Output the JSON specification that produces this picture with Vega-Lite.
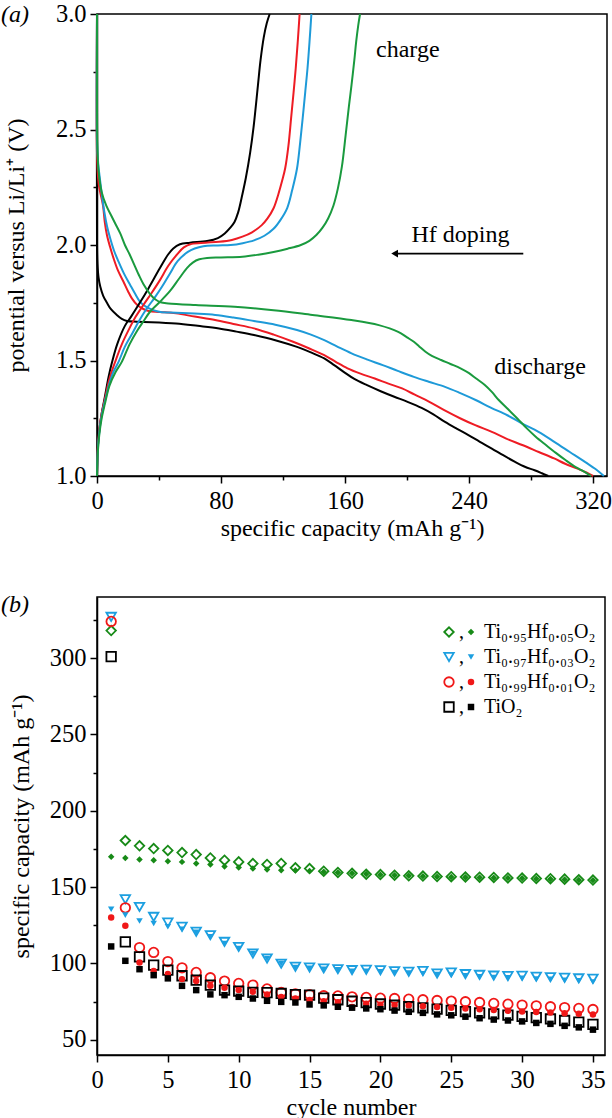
{
  "$schema": "https://vega.github.io/schema/vega-lite/v6.json",
  "padding": {"left": 0, "top": 0, "right": 0, "bottom": 0},
  "spacing": 50,
  "config": {
    "font": "Liberation Serif",
    "view": {"stroke": "black", "strokeWidth": 1.5},
    "axis": {"grid": false, "domainColor": "black", "domainWidth": 1.5, "tickColor": "black", "tickWidth": 1.5, "labelFont": "Liberation Serif", "labelFontSize": 24.5, "labelColor": "black", "titleFont": "Liberation Serif", "titleFontSize": 24, "titleFontWeight": "normal", "titleColor": "black", "labelOverlap": false, "labelFlush": false}
  },
  "datasets": {
    "curves": [
      {"s":"k","t":"d","x":0,"y":3.0},{"s":"k","t":"d","x":0,"y":2.0},{"s":"k","t":"d","x":0.3,"y":1.92},{"s":"k","t":"d","x":1,"y":1.86},{"s":"k","t":"d","x":2.1,"y":1.82},{"s":"k","t":"d","x":4,"y":1.78},{"s":"k","t":"d","x":6.4,"y":1.75},{"s":"k","t":"d","x":9,"y":1.722},{"s":"k","t":"d","x":12.8,"y":1.697},{"s":"k","t":"d","x":16,"y":1.68},{"s":"k","t":"d","x":19.3,"y":1.671},{"s":"k","t":"d","x":25.7,"y":1.668},{"s":"k","t":"d","x":35,"y":1.666},{"s":"k","t":"d","x":51,"y":1.66},{"s":"k","t":"d","x":65,"y":1.65},{"s":"k","t":"d","x":78.7,"y":1.639},{"s":"k","t":"d","x":90,"y":1.625},{"s":"k","t":"d","x":101.3,"y":1.61},{"s":"k","t":"d","x":115,"y":1.588},{"s":"k","t":"d","x":129,"y":1.559},{"s":"k","t":"d","x":138,"y":1.535},{"s":"k","t":"d","x":146.6,"y":1.509},{"s":"k","t":"d","x":153,"y":1.48},{"s":"k","t":"d","x":159.1,"y":1.451},{"s":"k","t":"d","x":166,"y":1.42},{"s":"k","t":"d","x":174.2,"y":1.393},{"s":"k","t":"d","x":183,"y":1.367},{"s":"k","t":"d","x":191.8,"y":1.343},{"s":"k","t":"d","x":200,"y":1.322},{"s":"k","t":"d","x":209.4,"y":1.295},{"s":"k","t":"d","x":217,"y":1.267},{"s":"k","t":"d","x":224.5,"y":1.234},{"s":"k","t":"d","x":232,"y":1.205},{"s":"k","t":"d","x":239.6,"y":1.177},{"s":"k","t":"d","x":247,"y":1.148},{"s":"k","t":"d","x":254.7,"y":1.119},{"s":"k","t":"d","x":262,"y":1.09},{"s":"k","t":"d","x":269.7,"y":1.061},{"s":"k","t":"d","x":276,"y":1.04},{"s":"k","t":"d","x":282.3,"y":1.025},{"s":"k","t":"d","x":287,"y":1.012},{"s":"k","t":"d","x":291.1,"y":1.0},
      {"s":"r","t":"d","x":0,"y":3.0},{"s":"r","t":"d","x":0,"y":2.4},{"s":"r","t":"d","x":1,"y":2.27},{"s":"r","t":"d","x":2,"y":2.23},{"s":"r","t":"d","x":3.9,"y":2.17},{"s":"r","t":"d","x":5,"y":2.1},{"s":"r","t":"d","x":6.4,"y":2.043},{"s":"r","t":"d","x":8.5,"y":1.99},{"s":"r","t":"d","x":10.7,"y":1.942},{"s":"r","t":"d","x":13.5,"y":1.89},{"s":"r","t":"d","x":17.1,"y":1.841},{"s":"r","t":"d","x":20,"y":1.8},{"s":"r","t":"d","x":22.5,"y":1.769},{"s":"r","t":"d","x":26,"y":1.74},{"s":"r","t":"d","x":29.9,"y":1.723},{"s":"r","t":"d","x":33.4,"y":1.714},{"s":"r","t":"d","x":40.6,"y":1.71},{"s":"r","t":"d","x":51,"y":1.704},{"s":"r","t":"d","x":63,"y":1.69},{"s":"r","t":"d","x":76.2,"y":1.675},{"s":"r","t":"d","x":88,"y":1.658},{"s":"r","t":"d","x":101.3,"y":1.639},{"s":"r","t":"d","x":114,"y":1.612},{"s":"r","t":"d","x":126.5,"y":1.581},{"s":"r","t":"d","x":137,"y":1.552},{"s":"r","t":"d","x":146.6,"y":1.523},{"s":"r","t":"d","x":154,"y":1.494},{"s":"r","t":"d","x":161.6,"y":1.466},{"s":"r","t":"d","x":170,"y":1.443},{"s":"r","t":"d","x":179.2,"y":1.422},{"s":"r","t":"d","x":188,"y":1.4},{"s":"r","t":"d","x":196.8,"y":1.379},{"s":"r","t":"d","x":205,"y":1.352},{"s":"r","t":"d","x":214.4,"y":1.321},{"s":"r","t":"d","x":224,"y":1.285},{"s":"r","t":"d","x":234.5,"y":1.249},{"s":"r","t":"d","x":244,"y":1.22},{"s":"r","t":"d","x":254.7,"y":1.191},{"s":"r","t":"d","x":264,"y":1.162},{"s":"r","t":"d","x":274.8,"y":1.133},{"s":"r","t":"d","x":285,"y":1.104},{"s":"r","t":"d","x":294.9,"y":1.076},{"s":"r","t":"d","x":302,"y":1.053},{"s":"r","t":"d","x":310,"y":1.032},{"s":"r","t":"d","x":316,"y":1.014},{"s":"r","t":"d","x":320,"y":1.0},
      {"s":"b","t":"d","x":0,"y":3.0},{"s":"b","t":"d","x":0,"y":2.45},{"s":"b","t":"d","x":0.8,"y":2.35},{"s":"b","t":"d","x":2,"y":2.28},{"s":"b","t":"d","x":3.5,"y":2.2},{"s":"b","t":"d","x":4.7,"y":2.144},{"s":"b","t":"d","x":6.5,"y":2.08},{"s":"b","t":"d","x":8.5,"y":2.029},{"s":"b","t":"d","x":11,"y":1.975},{"s":"b","t":"d","x":13.9,"y":1.928},{"s":"b","t":"d","x":17.5,"y":1.875},{"s":"b","t":"d","x":21.4,"y":1.827},{"s":"b","t":"d","x":24.5,"y":1.79},{"s":"b","t":"d","x":27.8,"y":1.754},{"s":"b","t":"d","x":31.5,"y":1.733},{"s":"b","t":"d","x":36.3,"y":1.718},{"s":"b","t":"d","x":41,"y":1.71},{"s":"b","t":"d","x":51,"y":1.707},{"s":"b","t":"d","x":63,"y":1.703},{"s":"b","t":"d","x":76.2,"y":1.697},{"s":"b","t":"d","x":88,"y":1.686},{"s":"b","t":"d","x":101.3,"y":1.671},{"s":"b","t":"d","x":115,"y":1.655},{"s":"b","t":"d","x":129,"y":1.632},{"s":"b","t":"d","x":138,"y":1.612},{"s":"b","t":"d","x":146.6,"y":1.588},{"s":"b","t":"d","x":155,"y":1.56},{"s":"b","t":"d","x":164.2,"y":1.531},{"s":"b","t":"d","x":174,"y":1.505},{"s":"b","t":"d","x":184.3,"y":1.48},{"s":"b","t":"d","x":194,"y":1.455},{"s":"b","t":"d","x":204.4,"y":1.429},{"s":"b","t":"d","x":214,"y":1.408},{"s":"b","t":"d","x":224.5,"y":1.386},{"s":"b","t":"d","x":234,"y":1.36},{"s":"b","t":"d","x":244.6,"y":1.328},{"s":"b","t":"d","x":254,"y":1.296},{"s":"b","t":"d","x":264.7,"y":1.263},{"s":"b","t":"d","x":274,"y":1.228},{"s":"b","t":"d","x":284.8,"y":1.191},{"s":"b","t":"d","x":295,"y":1.148},{"s":"b","t":"d","x":305,"y":1.104},{"s":"b","t":"d","x":315,"y":1.06},{"s":"b","t":"d","x":322,"y":1.028},{"s":"b","t":"d","x":327,"y":1.0},
      {"s":"k","t":"c","x":0,"y":1.0},{"s":"k","t":"c","x":0.5,"y":1.12},{"s":"k","t":"c","x":1.5,"y":1.2},{"s":"k","t":"c","x":3,"y":1.27},{"s":"k","t":"c","x":5,"y":1.34},{"s":"k","t":"c","x":7.5,"y":1.43},{"s":"k","t":"c","x":9.6,"y":1.49},{"s":"k","t":"c","x":13,"y":1.57},{"s":"k","t":"c","x":18,"y":1.65},{"s":"k","t":"c","x":22,"y":1.69},{"s":"k","t":"c","x":26.7,"y":1.74},{"s":"k","t":"c","x":33,"y":1.81},{"s":"k","t":"c","x":40.6,"y":1.9},{"s":"k","t":"c","x":46,"y":1.96},{"s":"k","t":"c","x":49.2,"y":1.985},{"s":"k","t":"c","x":53.5,"y":2.003},{"s":"k","t":"c","x":60,"y":2.01},{"s":"k","t":"c","x":71,"y":2.017},{"s":"k","t":"c","x":78,"y":2.03},{"s":"k","t":"c","x":82.4,"y":2.05},{"s":"k","t":"c","x":86,"y":2.075},{"s":"k","t":"c","x":88.7,"y":2.1},{"s":"k","t":"c","x":91,"y":2.14},{"s":"k","t":"c","x":93.8,"y":2.22},{"s":"k","t":"c","x":96,"y":2.29},{"s":"k","t":"c","x":98.8,"y":2.4},{"s":"k","t":"c","x":101,"y":2.51},{"s":"k","t":"c","x":103.8,"y":2.69},{"s":"k","t":"c","x":105.5,"y":2.8},{"s":"k","t":"c","x":107.6,"y":2.9},{"s":"k","t":"c","x":109.5,"y":2.96},{"s":"k","t":"c","x":111.4,"y":3.0},
      {"s":"r","t":"c","x":0,"y":1.0},{"s":"r","t":"c","x":0.5,"y":1.12},{"s":"r","t":"c","x":1.5,"y":1.2},{"s":"r","t":"c","x":3,"y":1.27},{"s":"r","t":"c","x":5,"y":1.33},{"s":"r","t":"c","x":8,"y":1.42},{"s":"r","t":"c","x":11.7,"y":1.494},{"s":"r","t":"c","x":16,"y":1.57},{"s":"r","t":"c","x":21,"y":1.64},{"s":"r","t":"c","x":25,"y":1.69},{"s":"r","t":"c","x":29.9,"y":1.74},{"s":"r","t":"c","x":35,"y":1.79},{"s":"r","t":"c","x":40.6,"y":1.848},{"s":"r","t":"c","x":46,"y":1.91},{"s":"r","t":"c","x":51.4,"y":1.957},{"s":"r","t":"c","x":56,"y":1.99},{"s":"r","t":"c","x":61.1,"y":2.005},{"s":"r","t":"c","x":70,"y":2.01},{"s":"r","t":"c","x":78.7,"y":2.014},{"s":"r","t":"c","x":87,"y":2.022},{"s":"r","t":"c","x":93.8,"y":2.036},{"s":"r","t":"c","x":100,"y":2.055},{"s":"r","t":"c","x":106.3,"y":2.086},{"s":"r","t":"c","x":110,"y":2.115},{"s":"r","t":"c","x":113.9,"y":2.159},{"s":"r","t":"c","x":117,"y":2.22},{"s":"r","t":"c","x":119.5,"y":2.28},{"s":"r","t":"c","x":121.4,"y":2.332},{"s":"r","t":"c","x":123.5,"y":2.43},{"s":"r","t":"c","x":125.2,"y":2.548},{"s":"r","t":"c","x":126.8,"y":2.66},{"s":"r","t":"c","x":128.2,"y":2.765},{"s":"r","t":"c","x":129.5,"y":2.88},{"s":"r","t":"c","x":130.7,"y":3.0},
      {"s":"b","t":"c","x":0,"y":1.0},{"s":"b","t":"c","x":0.5,"y":1.11},{"s":"b","t":"c","x":1.5,"y":1.19},{"s":"b","t":"c","x":3,"y":1.26},{"s":"b","t":"c","x":5,"y":1.32},{"s":"b","t":"c","x":8,"y":1.4},{"s":"b","t":"c","x":10.5,"y":1.45},{"s":"b","t":"c","x":13.9,"y":1.494},{"s":"b","t":"c","x":18,"y":1.56},{"s":"b","t":"c","x":23,"y":1.62},{"s":"b","t":"c","x":27,"y":1.67},{"s":"b","t":"c","x":32.1,"y":1.725},{"s":"b","t":"c","x":37,"y":1.77},{"s":"b","t":"c","x":42,"y":1.82},{"s":"b","t":"c","x":47.1,"y":1.877},{"s":"b","t":"c","x":52,"y":1.93},{"s":"b","t":"c","x":58.6,"y":1.97},{"s":"b","t":"c","x":63,"y":1.985},{"s":"b","t":"c","x":68.6,"y":1.995},{"s":"b","t":"c","x":78,"y":1.998},{"s":"b","t":"c","x":86.2,"y":2.0},{"s":"b","t":"c","x":94,"y":2.008},{"s":"b","t":"c","x":101.3,"y":2.02},{"s":"b","t":"c","x":108,"y":2.04},{"s":"b","t":"c","x":113.9,"y":2.07},{"s":"b","t":"c","x":118.5,"y":2.11},{"s":"b","t":"c","x":122.7,"y":2.16},{"s":"b","t":"c","x":126,"y":2.24},{"s":"b","t":"c","x":129,"y":2.33},{"s":"b","t":"c","x":131,"y":2.44},{"s":"b","t":"c","x":132.7,"y":2.55},{"s":"b","t":"c","x":134.3,"y":2.66},{"s":"b","t":"c","x":135.8,"y":2.765},{"s":"b","t":"c","x":137.2,"y":2.89},{"s":"b","t":"c","x":138.3,"y":3.0},
      {"s":"g","t":"c","x":0,"y":1.0},{"s":"g","t":"c","x":0.5,"y":1.1},{"s":"g","t":"c","x":1.5,"y":1.18},{"s":"g","t":"c","x":3,"y":1.25},{"s":"g","t":"c","x":5,"y":1.31},{"s":"g","t":"c","x":8,"y":1.39},{"s":"g","t":"c","x":12,"y":1.45},{"s":"g","t":"c","x":16,"y":1.494},{"s":"g","t":"c","x":21,"y":1.57},{"s":"g","t":"c","x":26,"y":1.63},{"s":"g","t":"c","x":30,"y":1.67},{"s":"g","t":"c","x":34.2,"y":1.711},{"s":"g","t":"c","x":40,"y":1.75},{"s":"g","t":"c","x":47,"y":1.8},{"s":"g","t":"c","x":53,"y":1.855},{"s":"g","t":"c","x":58,"y":1.9},{"s":"g","t":"c","x":62,"y":1.925},{"s":"g","t":"c","x":66,"y":1.938},{"s":"g","t":"c","x":71,"y":1.944},{"s":"g","t":"c","x":80,"y":1.946},{"s":"g","t":"c","x":93.8,"y":1.949},{"s":"g","t":"c","x":104,"y":1.958},{"s":"g","t":"c","x":113.9,"y":1.97},{"s":"g","t":"c","x":123,"y":1.984},{"s":"g","t":"c","x":131.5,"y":2.0},{"s":"g","t":"c","x":137,"y":2.018},{"s":"g","t":"c","x":141.5,"y":2.043},{"s":"g","t":"c","x":145.5,"y":2.075},{"s":"g","t":"c","x":149.1,"y":2.115},{"s":"g","t":"c","x":152.5,"y":2.17},{"s":"g","t":"c","x":155.4,"y":2.245},{"s":"g","t":"c","x":158,"y":2.34},{"s":"g","t":"c","x":160.4,"y":2.476},{"s":"g","t":"c","x":162.5,"y":2.6},{"s":"g","t":"c","x":164.2,"y":2.693},{"s":"g","t":"c","x":166,"y":2.8},{"s":"g","t":"c","x":167.2,"y":2.88},{"s":"g","t":"c","x":168.5,"y":2.95},{"s":"g","t":"c","x":169.7,"y":3.0},
      {"s":"g","t":"d","x":0,"y":3.0},{"s":"g","t":"d","x":0,"y":2.6},{"s":"g","t":"d","x":0.3,"y":2.42},{"s":"g","t":"d","x":1,"y":2.32},{"s":"g","t":"d","x":3,"y":2.23},{"s":"g","t":"d","x":6,"y":2.17},{"s":"g","t":"d","x":9,"y":2.13},{"s":"g","t":"d","x":12,"y":2.09},{"s":"g","t":"d","x":15,"y":2.05},{"s":"g","t":"d","x":18,"y":2.0},{"s":"g","t":"d","x":21,"y":1.96},{"s":"g","t":"d","x":24,"y":1.915},{"s":"g","t":"d","x":27,"y":1.87},{"s":"g","t":"d","x":30,"y":1.83},{"s":"g","t":"d","x":34,"y":1.79},{"s":"g","t":"d","x":37.5,"y":1.765},{"s":"g","t":"d","x":41,"y":1.752},{"s":"g","t":"d","x":46,"y":1.747},{"s":"g","t":"d","x":63.6,"y":1.74},{"s":"g","t":"d","x":88.7,"y":1.733},{"s":"g","t":"d","x":113.9,"y":1.718},{"s":"g","t":"d","x":139,"y":1.697},{"s":"g","t":"d","x":164.2,"y":1.675},{"s":"g","t":"d","x":181.8,"y":1.653},{"s":"g","t":"d","x":194.3,"y":1.624},{"s":"g","t":"d","x":200,"y":1.6},{"s":"g","t":"d","x":204.4,"y":1.581},{"s":"g","t":"d","x":208,"y":1.56},{"s":"g","t":"d","x":211.9,"y":1.538},{"s":"g","t":"d","x":216,"y":1.52},{"s":"g","t":"d","x":222,"y":1.502},{"s":"g","t":"d","x":228,"y":1.485},{"s":"g","t":"d","x":234.5,"y":1.466},{"s":"g","t":"d","x":240,"y":1.445},{"s":"g","t":"d","x":244.6,"y":1.422},{"s":"g","t":"d","x":250,"y":1.395},{"s":"g","t":"d","x":254.7,"y":1.364},{"s":"g","t":"d","x":259,"y":1.33},{"s":"g","t":"d","x":264.7,"y":1.292},{"s":"g","t":"d","x":271,"y":1.25},{"s":"g","t":"d","x":277.3,"y":1.206},{"s":"g","t":"d","x":283,"y":1.17},{"s":"g","t":"d","x":289.8,"y":1.133},{"s":"g","t":"d","x":296,"y":1.1},{"s":"g","t":"d","x":302.4,"y":1.068},{"s":"g","t":"d","x":308,"y":1.042},{"s":"g","t":"d","x":312.5,"y":1.025},{"s":"g","t":"d","x":318.8,"y":1.0}
    ],
    "cyc": [
      {"n":1,"s":"g","k":"o","v":318},{"n":2,"s":"g","k":"o","v":180.5},{"n":3,"s":"g","k":"o","v":177},{"n":4,"s":"g","k":"o","v":175.2},{"n":5,"s":"g","k":"o","v":174},{"n":6,"s":"g","k":"o","v":172.6},{"n":7,"s":"g","k":"o","v":171.3},{"n":8,"s":"g","k":"o","v":169.1},{"n":9,"s":"g","k":"o","v":167.6},{"n":10,"s":"g","k":"o","v":166.5},{"n":11,"s":"g","k":"o","v":165.4},{"n":12,"s":"g","k":"o","v":164.8},{"n":13,"s":"g","k":"o","v":165.5},{"n":14,"s":"g","k":"o","v":162.6},{"n":15,"s":"g","k":"o","v":162.1},{"n":16,"s":"g","k":"o","v":160.4},{"n":17,"s":"g","k":"o","v":159.6},{"n":18,"s":"g","k":"o","v":159},{"n":19,"s":"g","k":"o","v":158.4},{"n":20,"s":"g","k":"o","v":158.2},{"n":21,"s":"g","k":"o","v":157.8},{"n":22,"s":"g","k":"o","v":157.4},{"n":23,"s":"g","k":"o","v":157.2},{"n":24,"s":"g","k":"o","v":156.9},{"n":25,"s":"g","k":"o","v":156.8},{"n":26,"s":"g","k":"o","v":156.6},{"n":27,"s":"g","k":"o","v":156.5},{"n":28,"s":"g","k":"o","v":156.3},{"n":29,"s":"g","k":"o","v":156},{"n":30,"s":"g","k":"o","v":155.9},{"n":31,"s":"g","k":"o","v":155.6},{"n":32,"s":"g","k":"o","v":155.5},{"n":33,"s":"g","k":"o","v":155.2},{"n":34,"s":"g","k":"o","v":154.8},{"n":35,"s":"g","k":"o","v":154.6},
      {"n":1,"s":"b","k":"o","v":327},{"n":2,"s":"b","k":"o","v":142},{"n":3,"s":"b","k":"o","v":137},{"n":4,"s":"b","k":"o","v":130.5},{"n":5,"s":"b","k":"o","v":126.8},{"n":6,"s":"b","k":"o","v":124},{"n":7,"s":"b","k":"o","v":120.7},{"n":8,"s":"b","k":"o","v":118.5},{"n":9,"s":"b","k":"o","v":114.1},{"n":10,"s":"b","k":"o","v":110.8},{"n":11,"s":"b","k":"o","v":106.5},{"n":12,"s":"b","k":"o","v":103.2},{"n":13,"s":"b","k":"o","v":99.8},{"n":14,"s":"b","k":"o","v":97.8},{"n":15,"s":"b","k":"o","v":97.3},{"n":16,"s":"b","k":"o","v":96.7},{"n":17,"s":"b","k":"o","v":96.2},{"n":18,"s":"b","k":"o","v":95.6},{"n":19,"s":"b","k":"o","v":95.8},{"n":20,"s":"b","k":"o","v":95.5},{"n":21,"s":"b","k":"o","v":94.9},{"n":22,"s":"b","k":"o","v":94.5},{"n":23,"s":"b","k":"o","v":95},{"n":24,"s":"b","k":"o","v":93.4},{"n":25,"s":"b","k":"o","v":94.1},{"n":26,"s":"b","k":"o","v":93},{"n":27,"s":"b","k":"o","v":92.5},{"n":28,"s":"b","k":"o","v":92},{"n":29,"s":"b","k":"o","v":91.7},{"n":30,"s":"b","k":"o","v":91.9},{"n":31,"s":"b","k":"o","v":91.3},{"n":32,"s":"b","k":"o","v":91},{"n":33,"s":"b","k":"o","v":90.6},{"n":34,"s":"b","k":"o","v":90.2},{"n":35,"s":"b","k":"o","v":90},
      {"n":1,"s":"r","k":"o","v":324},{"n":2,"s":"r","k":"o","v":136.4},{"n":3,"s":"r","k":"o","v":110.4},{"n":4,"s":"r","k":"o","v":107.2},{"n":5,"s":"r","k":"o","v":101.2},{"n":6,"s":"r","k":"o","v":97.1},{"n":7,"s":"r","k":"o","v":94.1},{"n":8,"s":"r","k":"o","v":90.6},{"n":9,"s":"r","k":"o","v":88.4},{"n":10,"s":"r","k":"o","v":86.9},{"n":11,"s":"r","k":"o","v":85.8},{"n":12,"s":"r","k":"o","v":83.3},{"n":13,"s":"r","k":"o","v":81},{"n":14,"s":"r","k":"o","v":80.1},{"n":15,"s":"r","k":"o","v":79.6},{"n":16,"s":"r","k":"o","v":78.8},{"n":17,"s":"r","k":"o","v":78.7},{"n":18,"s":"r","k":"o","v":78.1},{"n":19,"s":"r","k":"o","v":77.7},{"n":20,"s":"r","k":"o","v":77.2},{"n":21,"s":"r","k":"o","v":77},{"n":22,"s":"r","k":"o","v":76.6},{"n":23,"s":"r","k":"o","v":76.2},{"n":24,"s":"r","k":"o","v":75.7},{"n":25,"s":"r","k":"o","v":75.3},{"n":26,"s":"r","k":"o","v":74.9},{"n":27,"s":"r","k":"o","v":74.4},{"n":28,"s":"r","k":"o","v":73.8},{"n":29,"s":"r","k":"o","v":73.3},{"n":30,"s":"r","k":"o","v":72.7},{"n":31,"s":"r","k":"o","v":72.2},{"n":32,"s":"r","k":"o","v":71.6},{"n":33,"s":"r","k":"o","v":71.1},{"n":34,"s":"r","k":"o","v":70.5},{"n":35,"s":"r","k":"o","v":69.8},
      {"n":1,"s":"k","k":"o","v":301},{"n":2,"s":"k","k":"o","v":114.1},{"n":3,"s":"k","k":"o","v":104.3},{"n":4,"s":"k","k":"o","v":98.9},{"n":5,"s":"k","k":"o","v":95.6},{"n":6,"s":"k","k":"o","v":91.9},{"n":7,"s":"k","k":"o","v":89},{"n":8,"s":"k","k":"o","v":85.8},{"n":9,"s":"k","k":"o","v":82.5},{"n":10,"s":"k","k":"o","v":81.8},{"n":11,"s":"k","k":"o","v":81},{"n":12,"s":"k","k":"o","v":80.8},{"n":13,"s":"k","k":"o","v":80.3},{"n":14,"s":"k","k":"o","v":79.6},{"n":15,"s":"k","k":"o","v":79.2},{"n":16,"s":"k","k":"o","v":77.2},{"n":17,"s":"k","k":"o","v":76.2},{"n":18,"s":"k","k":"o","v":75.2},{"n":19,"s":"k","k":"o","v":74.3},{"n":20,"s":"k","k":"o","v":73.4},{"n":21,"s":"k","k":"o","v":72.6},{"n":22,"s":"k","k":"o","v":71.6},{"n":23,"s":"k","k":"o","v":70.9},{"n":24,"s":"k","k":"o","v":70.1},{"n":25,"s":"k","k":"o","v":69.2},{"n":26,"s":"k","k":"o","v":68.4},{"n":27,"s":"k","k":"o","v":67.6},{"n":28,"s":"k","k":"o","v":66.9},{"n":29,"s":"k","k":"o","v":66.1},{"n":30,"s":"k","k":"o","v":65.3},{"n":31,"s":"k","k":"o","v":64.5},{"n":32,"s":"k","k":"o","v":63.6},{"n":33,"s":"k","k":"o","v":62.6},{"n":34,"s":"k","k":"o","v":61.5},{"n":35,"s":"k","k":"o","v":60},
      {"n":1,"s":"g","k":"f","v":169.8},{"n":2,"s":"g","k":"f","v":169.1},{"n":3,"s":"g","k":"f","v":168},{"n":4,"s":"g","k":"f","v":167.6},{"n":5,"s":"g","k":"f","v":166.9},{"n":6,"s":"g","k":"f","v":166.5},{"n":7,"s":"g","k":"f","v":165.4},{"n":8,"s":"g","k":"f","v":164.8},{"n":9,"s":"g","k":"f","v":163.4},{"n":10,"s":"g","k":"f","v":162.8},{"n":11,"s":"g","k":"f","v":162.1},{"n":12,"s":"g","k":"f","v":161.5},{"n":13,"s":"g","k":"f","v":161},{"n":14,"s":"g","k":"f","v":161},{"n":15,"s":"g","k":"f","v":160.6},{"n":16,"s":"g","k":"f","v":160.1},{"n":17,"s":"g","k":"f","v":159.5},{"n":18,"s":"g","k":"f","v":159},{"n":19,"s":"g","k":"f","v":158.5},{"n":20,"s":"g","k":"f","v":158.1},{"n":21,"s":"g","k":"f","v":157.8},{"n":22,"s":"g","k":"f","v":157.4},{"n":23,"s":"g","k":"f","v":157.1},{"n":24,"s":"g","k":"f","v":156.8},{"n":25,"s":"g","k":"f","v":156.6},{"n":26,"s":"g","k":"f","v":156.4},{"n":27,"s":"g","k":"f","v":156.3},{"n":28,"s":"g","k":"f","v":156.1},{"n":29,"s":"g","k":"f","v":155.9},{"n":30,"s":"g","k":"f","v":155.7},{"n":31,"s":"g","k":"f","v":155.5},{"n":32,"s":"g","k":"f","v":155.3},{"n":33,"s":"g","k":"f","v":155},{"n":34,"s":"g","k":"f","v":154.7},{"n":35,"s":"g","k":"f","v":154.4},
      {"n":1,"s":"b","k":"f","v":135.5},{"n":2,"s":"b","k":"f","v":131.6},{"n":3,"s":"b","k":"f","v":127.8},{"n":4,"s":"b","k":"f","v":126.1},{"n":5,"s":"b","k":"f","v":124},{"n":6,"s":"b","k":"f","v":122.4},{"n":7,"s":"b","k":"f","v":120.3},{"n":8,"s":"b","k":"f","v":117.4},{"n":9,"s":"b","k":"f","v":113},{"n":10,"s":"b","k":"f","v":109.8},{"n":11,"s":"b","k":"f","v":106.5},{"n":12,"s":"b","k":"f","v":103.2},{"n":13,"s":"b","k":"f","v":99.9},{"n":14,"s":"b","k":"f","v":97.3},{"n":15,"s":"b","k":"f","v":96.8},{"n":16,"s":"b","k":"f","v":96.2},{"n":17,"s":"b","k":"f","v":95.8},{"n":18,"s":"b","k":"f","v":94.9},{"n":19,"s":"b","k":"f","v":94.9},{"n":20,"s":"b","k":"f","v":94.5},{"n":21,"s":"b","k":"f","v":94},{"n":22,"s":"b","k":"f","v":93.6},{"n":23,"s":"b","k":"f","v":93.2},{"n":24,"s":"b","k":"f","v":92.7},{"n":25,"s":"b","k":"f","v":92.3},{"n":26,"s":"b","k":"f","v":91.9},{"n":27,"s":"b","k":"f","v":91.3},{"n":28,"s":"b","k":"f","v":90.8},{"n":29,"s":"b","k":"f","v":90.6},{"n":30,"s":"b","k":"f","v":90.2},{"n":31,"s":"b","k":"f","v":89.7},{"n":32,"s":"b","k":"f","v":89.5},{"n":33,"s":"b","k":"f","v":89},{"n":34,"s":"b","k":"f","v":88.6},{"n":35,"s":"b","k":"f","v":87.8},
      {"n":1,"s":"r","k":"f","v":130},{"n":2,"s":"r","k":"f","v":124.6},{"n":3,"s":"r","k":"f","v":100.6},{"n":4,"s":"r","k":"f","v":95.1},{"n":5,"s":"r","k":"f","v":93},{"n":6,"s":"r","k":"f","v":89.7},{"n":7,"s":"r","k":"f","v":88.4},{"n":8,"s":"r","k":"f","v":85.3},{"n":9,"s":"r","k":"f","v":84},{"n":10,"s":"r","k":"f","v":82.5},{"n":11,"s":"r","k":"f","v":81.4},{"n":12,"s":"r","k":"f","v":79.6},{"n":13,"s":"r","k":"f","v":78},{"n":14,"s":"r","k":"f","v":77},{"n":15,"s":"r","k":"f","v":76},{"n":16,"s":"r","k":"f","v":75.2},{"n":17,"s":"r","k":"f","v":74.5},{"n":18,"s":"r","k":"f","v":71.5},{"n":19,"s":"r","k":"f","v":73.5},{"n":20,"s":"r","k":"f","v":73},{"n":21,"s":"r","k":"f","v":72.8},{"n":22,"s":"r","k":"f","v":72.5},{"n":23,"s":"r","k":"f","v":72},{"n":24,"s":"r","k":"f","v":71.5},{"n":25,"s":"r","k":"f","v":71},{"n":26,"s":"r","k":"f","v":70.5},{"n":27,"s":"r","k":"f","v":70},{"n":28,"s":"r","k":"f","v":69.5},{"n":29,"s":"r","k":"f","v":69},{"n":30,"s":"r","k":"f","v":68.5},{"n":31,"s":"r","k":"f","v":68.1},{"n":32,"s":"r","k":"f","v":67.8},{"n":33,"s":"r","k":"f","v":67.4},{"n":34,"s":"r","k":"f","v":67},{"n":35,"s":"r","k":"f","v":66.5},
      {"n":1,"s":"k","k":"f","v":111.1},{"n":2,"s":"k","k":"f","v":101.7},{"n":3,"s":"k","k":"f","v":96.2},{"n":4,"s":"k","k":"f","v":92.3},{"n":5,"s":"k","k":"f","v":90.2},{"n":6,"s":"k","k":"f","v":85.3},{"n":7,"s":"k","k":"f","v":82.5},{"n":8,"s":"k","k":"f","v":79.7},{"n":9,"s":"k","k":"f","v":79.2},{"n":10,"s":"k","k":"f","v":78.1},{"n":11,"s":"k","k":"f","v":77},{"n":12,"s":"k","k":"f","v":75.5},{"n":13,"s":"k","k":"f","v":74.8},{"n":14,"s":"k","k":"f","v":74.4},{"n":15,"s":"k","k":"f","v":73.1},{"n":16,"s":"k","k":"f","v":72.5},{"n":17,"s":"k","k":"f","v":71.6},{"n":18,"s":"k","k":"f","v":71},{"n":19,"s":"k","k":"f","v":70.5},{"n":20,"s":"k","k":"f","v":70},{"n":21,"s":"k","k":"f","v":69.1},{"n":22,"s":"k","k":"f","v":68.3},{"n":23,"s":"k","k":"f","v":67.6},{"n":24,"s":"k","k":"f","v":66.6},{"n":25,"s":"k","k":"f","v":66},{"n":26,"s":"k","k":"f","v":65.1},{"n":27,"s":"k","k":"f","v":64.1},{"n":28,"s":"k","k":"f","v":63.2},{"n":29,"s":"k","k":"f","v":62.6},{"n":30,"s":"k","k":"f","v":62},{"n":31,"s":"k","k":"f","v":61},{"n":32,"s":"k","k":"f","v":60.4},{"n":33,"s":"k","k":"f","v":59.1},{"n":34,"s":"k","k":"f","v":58.1},{"n":35,"s":"k","k":"f","v":56.6}
    ]
  },
  "vconcat": [
    {
      "width": 510,
      "height": 462,
      "title": {"text": "(a)", "anchor": "start", "frame": "group", "dx": -96, "offset": -37.5, "baseline": "middle", "font": "Liberation Serif", "fontSize": 24, "fontStyle": "italic", "fontWeight": "normal", "color": "black"},
      "layer": [
        {
          "data": {"name": "curves"},
          "mark": {"type": "line", "strokeWidth": 2, "interpolate": "catmull-rom"},
          "encoding": {
            "x": {"field": "x", "type": "quantitative", "scale": {"domain": [0, 329], "nice": false, "zero": false},
              "axis": {"title": "specific capacity (mAh g⁻¹)", "values": [0, 40, 80, 120, 160, 200, 240, 280, 320],
                "labelExpr": "datum.value % 80 === 0 ? datum.label : ''",
                "tickSize": {"condition": {"test": "datum.value % 80 === 0", "value": 7}, "value": 4},
                "labelPadding": 6, "titlePadding": 4}},
            "y": {"field": "y", "type": "quantitative", "scale": {"domain": [1, 3], "nice": false, "zero": false},
              "axis": {"title": "potential versus Li/Li⁺ (V)", "values": [1, 1.25, 1.5, 1.75, 2, 2.25, 2.5, 2.75, 3],
                "labelExpr": "round(datum.value * 4) % 2 === 0 ? format(datum.value, '.1f') : ''",
                "tickSize": {"condition": {"test": "round(datum.value * 4) % 2 === 0", "value": 7}, "value": 4},
                "labelPadding": 4, "titlePadding": 27}},
            "color": {"field": "s", "type": "nominal", "scale": {"domain": ["k", "r", "b", "g"], "range": ["#000000", "#ee1c24", "#1e9ad8", "#1a9a3e"]}, "legend": null},
            "detail": {"field": "t"},
            "order": {"value": null}
          }
        },
        {
          "data": {"values": [{}]},
          "mark": {"type": "text", "font": "Liberation Serif", "fontSize": 24, "color": "black"},
          "encoding": {"x": {"datum": 200.5}, "y": {"datum": 2.846}, "text": {"value": "charge"}}
        },
        {
          "data": {"values": [{}]},
          "mark": {"type": "text", "font": "Liberation Serif", "fontSize": 24, "color": "black"},
          "encoding": {"x": {"datum": 234.5}, "y": {"datum": 2.045}, "text": {"value": "Hf doping"}}
        },
        {
          "data": {"values": [{}]},
          "mark": {"type": "text", "font": "Liberation Serif", "fontSize": 24, "color": "black"},
          "encoding": {"x": {"datum": 285.8}, "y": {"datum": 1.473}, "text": {"value": "discharge"}}
        },
        {
          "data": {"values": [{}]},
          "mark": {"type": "rule", "strokeWidth": 1.8, "color": "black"},
          "encoding": {"x": {"datum": 193}, "x2": {"datum": 275}, "y": {"datum": 1.963}}
        },
        {
          "data": {"values": [{}]},
          "mark": {"type": "point", "shape": "triangle-left", "filled": true, "size": 60, "color": "black", "opacity": 1},
          "encoding": {"x": {"datum": 192}, "y": {"datum": 1.963}}
        }
      ]
    },
    {
      "width": 508,
      "height": 458,
      "title": {"text": "(b)", "anchor": "start", "frame": "group", "dx": -96, "offset": -32, "baseline": "middle", "font": "Liberation Serif", "fontSize": 24, "fontStyle": "italic", "fontWeight": "normal", "color": "black"},
      "data": {"name": "cyc"},
      "layer": [
        {
          "transform": [{"filter": "datum.k === 'o'"}],
          "mark": {"type": "point", "filled": false, "size": 90, "strokeWidth": 1.8, "opacity": 1},
          "encoding": {
            "x": {"field": "n", "type": "quantitative", "scale": {"domain": [0, 35.85], "nice": false, "zero": false},
              "axis": {"title": "cycle number", "values": [0, 2.5, 5, 7.5, 10, 12.5, 15, 17.5, 20, 22.5, 25, 27.5, 30, 32.5, 35],
                "labelExpr": "datum.value % 5 === 0 ? datum.label : ''",
                "tickSize": {"condition": {"test": "datum.value % 5 === 0", "value": 7}, "value": 4},
                "labelPadding": 6, "titlePadding": 4}},
            "y": {"field": "v", "type": "quantitative", "scale": {"domain": [40, 340], "nice": false, "zero": false},
              "axis": {"title": "specific capacity (mAh g⁻¹)", "values": [50, 75, 100, 125, 150, 175, 200, 225, 250, 275, 300, 325],
                "labelExpr": "datum.value % 50 === 0 ? datum.label : ''",
                "tickSize": {"condition": {"test": "datum.value % 50 === 0", "value": 7}, "value": 4},
                "labelPadding": 4, "titlePadding": 16}},
            "shape": {"field": "s", "type": "nominal", "scale": {"domain": ["g", "b", "r", "k"], "range": ["diamond", "triangle-down", "circle", "square"]},
              "legend": {"title": null, "orient": "none", "legendX": 342, "legendY": 25, "symbolSize": 90, "symbolStrokeWidth": 1.8, "symbolFillColor": "transparent", "labelExpr": "','", "labelFont": "Liberation Serif", "labelFontSize": 20, "labelColor": "black", "rowPadding": 5, "padding": 0, "labelOffset": 0}},
            "stroke": {"field": "s", "type": "nominal", "scale": {"domain": ["g", "b", "r", "k"], "range": ["#178a17", "#1c9fe0", "#f01818", "#000000"]},
              "legend": {"title": null, "orient": "none", "legendX": 342, "legendY": 25, "symbolSize": 90, "symbolStrokeWidth": 1.8, "symbolFillColor": "transparent", "labelExpr": "','", "labelFont": "Liberation Serif", "labelFontSize": 20, "labelColor": "black", "rowPadding": 5, "padding": 0, "labelOffset": 0}}
          }
        },
        {
          "transform": [{"filter": "datum.k === 'f'"}],
          "mark": {"type": "point", "filled": true, "size": 42, "strokeWidth": 0, "opacity": 1},
          "encoding": {
            "x": {"field": "n", "type": "quantitative"},
            "y": {"field": "v", "type": "quantitative"},
            "shape": {"field": "s", "type": "nominal", "scale": {"domain": ["g", "b", "r", "k"], "range": ["diamond", "triangle-down", "circle", "square"]},
              "legend": {"title": null, "orient": "none", "legendX": 364, "legendY": 25, "symbolSize": 42, "labelExpr": "datum.label === 'g' ? 'Ti₀.₉₅Hf₀.₀₅O₂' : datum.label === 'b' ? 'Ti₀.₉₇Hf₀.₀₃O₂' : datum.label === 'r' ? 'Ti₀.₉₉Hf₀.₀₁O₂' : 'TiO₂'", "labelFont": "Liberation Serif", "labelFontSize": 20, "labelColor": "black", "labelLimit": 300, "rowPadding": 5, "padding": 0, "labelOffset": 3}},
            "fill": {"field": "s", "type": "nominal", "scale": {"domain": ["g", "b", "r", "k"], "range": ["#178a17", "#1c9fe0", "#f01818", "#000000"]},
              "legend": {"title": null, "orient": "none", "legendX": 364, "legendY": 25, "symbolSize": 42, "labelExpr": "datum.label === 'g' ? 'Ti₀.₉₅Hf₀.₀₅O₂' : datum.label === 'b' ? 'Ti₀.₉₇Hf₀.₀₃O₂' : datum.label === 'r' ? 'Ti₀.₉₉Hf₀.₀₁O₂' : 'TiO₂'", "labelFont": "Liberation Serif", "labelFontSize": 20, "labelColor": "black", "labelLimit": 300, "rowPadding": 5, "padding": 0, "labelOffset": 3}}
          }
        }
      ],
      "resolve": {"scale": {"shape": "independent", "stroke": "independent", "fill": "independent"}}
    }
  ]
}
